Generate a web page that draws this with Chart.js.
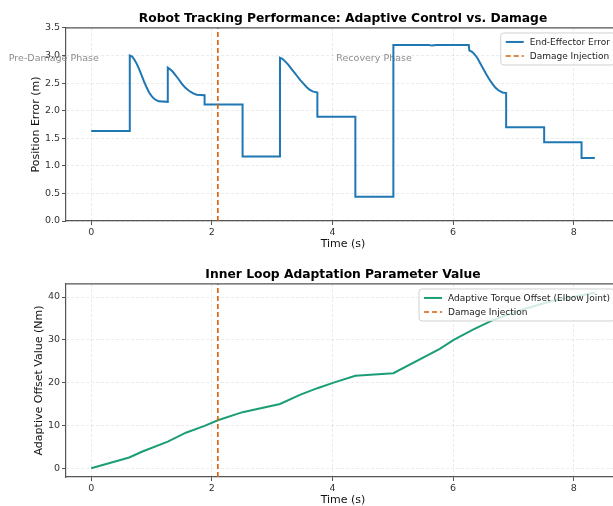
<!DOCTYPE html>
<html><head><meta charset="utf-8">
<script src="https://cdn.jsdelivr.net/npm/chart.js@4.4.1/dist/chart.umd.min.js"></script>
<style>
html,body{margin:0;padding:0;overflow:hidden;background:#fff;width:613px;height:506px;position:relative;}
.wrap{position:absolute;left:0;width:686px;height:256px;}
</style></head><body>
<div class="wrap" style="top:0"><canvas id="c1"></canvas></div>
<div class="wrap" style="top:256px"><canvas id="c2"></canvas></div>
<script>
// ---- data ----
const errTime  = [0, 0.64, 0.64, 0.68, 0.72, 0.76, 0.80, 0.84, 0.88, 0.92, 0.96, 1.00, 1.04, 1.08, 1.12, 1.27,
                  1.27, 1.31, 1.35, 1.40, 1.45, 1.50, 1.55, 1.60, 1.65, 1.70, 1.75, 1.88,
                  1.88, 2.51, 2.51, 3.13,
                  3.13, 3.17, 3.22, 3.27, 3.32, 3.37, 3.42, 3.47, 3.52, 3.57, 3.62, 3.67, 3.75,
                  3.75, 4.38, 4.38, 5.01, 5.01, 5.60, 5.65, 5.72, 6.26,
                  6.27, 6.31, 6.35, 6.40, 6.45, 6.50, 6.55, 6.60, 6.65, 6.70, 6.75, 6.82, 6.88,
                  6.88, 7.51, 7.51, 8.13, 8.13, 8.35];
const errValue = [1.63, 1.63, 3.00, 2.98, 2.92, 2.84, 2.74, 2.63, 2.52, 2.42, 2.33, 2.27, 2.22, 2.19, 2.17, 2.16,
                  2.78, 2.75, 2.71, 2.64, 2.57, 2.49, 2.43, 2.38, 2.34, 2.31, 2.29, 2.28,
                  2.11, 2.11, 1.17, 1.17,
                  2.96, 2.94, 2.89, 2.83, 2.76, 2.69, 2.62, 2.55, 2.49, 2.43, 2.38, 2.35, 2.33,
                  1.89, 1.89, 0.44, 0.44, 3.19, 3.19, 3.18, 3.19, 3.19,
                  3.09, 3.07, 3.03, 2.96, 2.86, 2.76, 2.66, 2.57, 2.49, 2.42, 2.37, 2.33, 2.32,
                  1.70, 1.70, 1.43, 1.43, 1.14, 1.14];
const offsetTime  = [0, 0.63, 0.85, 1.27, 1.57, 1.88, 2.10, 2.51, 3.13, 3.47, 3.75, 4.02, 4.38, 5.01,
                     5.78, 6.01, 6.33, 6.66, 7.15, 7.70, 8.20, 8.35];
const offsetValue = [0, 2.5, 3.9, 6.2, 8.3, 9.9, 11.2, 13.1, 15.0, 17.2, 18.7, 20.0, 21.6, 22.2,
                     27.9, 30.0, 32.4, 34.6, 37.1, 39.3, 40.6, 41.0];
const damageTime = 2.1;
const xTicks = [0, 2, 4, 6, 8];
const errTicks = [0, 0.5, 1.0, 1.5, 2.0, 2.5, 3.0, 3.5];
const offsetTicks = [0, 10, 20, 30, 40];
const xRange = [-0.4175, 8.7675];
const errRange = [0, 3.5];
const offsetRange = [-2.05, 43.05];
const phaseLabels = ['Pre-Damage Phase', 'Recovery Phase'];
const phaseLabelTime = [-0.62, 4.69];
const phaseLabelValue = 2.95;

const FONT = "'DejaVu Sans', 'Liberation Sans', sans-serif";
const BLUE = '#1f77b4', GREEN = '#1b9e77', ORANGE = '#d95f02';

const framePlugin = {
  id: 'frame',
  afterDatasetsDraw(chart) {
    const {ctx, chartArea: a} = chart;
    ctx.save();
    ctx.strokeStyle = '#555'; ctx.lineWidth = 1.2;
    ctx.beginPath();
    ctx.moveTo(a.left, a.top); ctx.lineTo(a.right, a.top); ctx.lineTo(a.right, a.bottom);
    ctx.stroke();
    ctx.restore();
  }
};

const phasePlugin = {
  id: 'phase',
  beforeDatasetsDraw(chart, args, o) {
    if (!o.show) return;
    const {ctx, scales} = chart;
    ctx.save();
    ctx.font = '9.5px ' + FONT;
    ctx.fillStyle = '#8c8c8c';
    ctx.textAlign = 'center'; ctx.textBaseline = 'middle';
    phaseLabels.forEach((t, i) => {
      ctx.fillText(t, scales.x.getPixelForValue(phaseLabelTime[i]), scales.y.getPixelForValue(phaseLabelValue));
    });
    ctx.restore();
  }
};

const boxLegend = {
  id: 'boxLegend',
  afterDraw(chart) {
    const {ctx, chartArea: a} = chart;
    const items = chart.data.datasets.slice().sort((p, q) => q.order - p.order);
    ctx.save();
    ctx.font = '9px ' + FONT;
    const tw = Math.max(...items.map(d => ctx.measureText(d.label).width));
    const w = 5 + 18 + 6 + tw + 5, h = 32;
    const right = a.right - 5, top = a.top + 5, left = right - w;
    ctx.beginPath();
    ctx.roundRect(left, top, w, h, 3);
    ctx.fillStyle = 'rgba(255,255,255,0.8)';
    ctx.fill();
    ctx.strokeStyle = 'rgba(204,204,204,0.9)'; ctx.lineWidth = 1;
    ctx.stroke();
    items.forEach((d, i) => {
      const y = top + 9 + i * 14;
      ctx.save();
      ctx.strokeStyle = d.borderColor; ctx.lineWidth = d.borderWidth;
      ctx.setLineDash(d.borderDash || []);
      ctx.beginPath(); ctx.moveTo(left + 5, y); ctx.lineTo(left + 23, y); ctx.stroke();
      ctx.restore();
      ctx.fillStyle = '#222'; ctx.textBaseline = 'middle'; ctx.textAlign = 'left';
      ctx.fillText(d.label, left + 29, y + 0.5);
    });
    ctx.restore();
  }
};

function makeChart(id, cfg) {
  const ticksFont = {family: FONT, size: 9.5};
  const gridOpts = {color: 'rgba(0,0,0,0.10)', lineWidth: 0.8, drawTicks: true, tickLength: 4,
                    tickColor: '#555', tickWidth: 1, tickBorderDash: []};
  const borderOpts = {display: true, color: '#555', width: 1.2, dash: [3, 2]};
  return new Chart(document.getElementById(id), {
    type: 'line',
    data: {
      datasets: [
        {label: cfg.seriesLabel, data: cfg.t.map((t, i) => ({x: t, y: cfg.v[i]})),
         borderColor: cfg.color, borderWidth: 2, pointRadius: 0, tension: 0, fill: false, order: 2},
        {label: 'Damage Injection', data: [{x: damageTime, y: cfg.yRange[0]}, {x: damageTime, y: cfg.yRange[1]}],
         borderColor: ORANGE, borderWidth: 1.6, borderDash: [5, 3], pointRadius: 0, fill: false, order: 1}
      ]
    },
    options: {
      responsive: true, maintainAspectRatio: false, animation: false, devicePixelRatio: 1,
      layout: {padding: {left: 0, right: 0, top: 0, bottom: 0}},
      plugins: {
        legend: {display: false}, tooltip: {enabled: false},
        title: {display: true, text: cfg.title, color: '#000',
                font: {family: FONT, size: 12.3, weight: 'bold'}, padding: {top: 11.6, bottom: 1.6}},
        phase: {show: cfg.phase}
      },
      scales: {
        x: {
          type: 'linear', min: xRange[0], max: xRange[1],
          afterBuildTicks: s => { s.ticks = xTicks.map(v => ({value: v})); },
          afterFit: s => { s.height = 35; },
          ticks: {font: ticksFont, color: '#333', padding: 2, maxRotation: 0,
                  callback: v => String(v)},
          grid: gridOpts,
          border: borderOpts,
          title: {display: true, text: 'Time (s)', color: '#111', font: {family: FONT, size: 11},
                  padding: {top: 0, bottom: 5}}
        },
        y: {
          min: cfg.yRange[0], max: cfg.yRange[1],
          afterBuildTicks: s => { s.ticks = cfg.yTicks.map(v => ({value: v})); },
          afterFit: s => { s.width = 66; },
          ticks: {font: ticksFont, color: '#333', padding: 2, callback: cfg.fmt},
          grid: gridOpts,
          border: borderOpts,
          title: {display: true, text: cfg.yTitle, color: '#111', font: {family: FONT, size: 11},
                  padding: {top: cfg.yTitlePad, bottom: 0}}
        },
        yRightSpace: {
          position: 'right', display: true, min: 0, max: 1,
          afterFit: s => { s.width = 66; },
          ticks: {display: false}, grid: {display: false, drawTicks: false}, border: {display: false},
          title: {display: false}
        }
      }
    },
    plugins: [phasePlugin, framePlugin, boxLegend]
  });
}

makeChart('c1', {
  title: 'Robot Tracking Performance: Adaptive Control vs. Damage',
  seriesLabel: 'End-Effector Error', t: errTime, v: errValue, color: BLUE,
  yRange: errRange, yTicks: errTicks, fmt: v => Number(v).toFixed(1),
  yTitle: 'Position Error (m)', yTitlePad: 30, phase: true
});
makeChart('c2', {
  title: 'Inner Loop Adaptation Parameter Value',
  seriesLabel: 'Adaptive Torque Offset (Elbow Joint)', t: offsetTime, v: offsetValue, color: GREEN,
  yRange: offsetRange, yTicks: offsetTicks, fmt: v => String(Math.round(v)),
  yTitle: 'Adaptive Offset Value (Nm)', yTitlePad: 33, phase: false
});
</script>
</body></html>
